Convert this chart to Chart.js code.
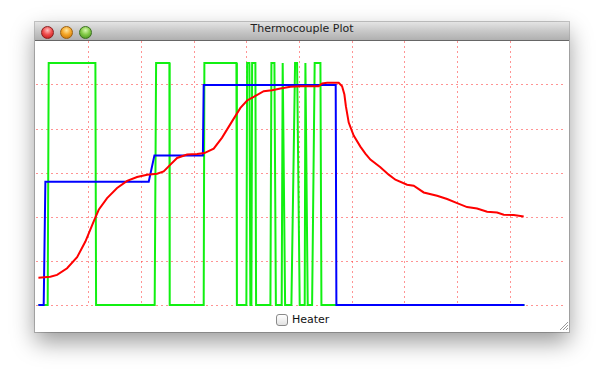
<!DOCTYPE html>
<html><head><meta charset="utf-8">
<script src="https://cdn.jsdelivr.net/npm/chart.js@4"></script>
<style>
html,body{margin:0;padding:0;background:#fff;width:604px;height:380px;overflow:hidden;}
#win{position:absolute;left:35px;top:22px;width:534px;height:310px;background:#fff;box-shadow:0 10px 22px rgba(0,0,0,0.4),0 0 0 1px rgba(0,0,0,0.22);}
#tb{position:absolute;left:0;top:0;width:534px;height:18px;background:linear-gradient(#e4e4e4,#c8c8c8 50%,#b0b0b0);border-bottom:1px solid #666;}
#title{position:absolute;left:0;right:0;top:0;height:19px;line-height:19px;text-align:center;font:11px "DejaVu Sans";color:#222;}
.tl{position:absolute;top:4px;width:13px;height:13px;border-radius:50%;box-sizing:border-box;}
#r{left:6px;background:radial-gradient(circle at 50% 30%,#ffc0c0 0,#f05050 45%,#b81010 100%);border:1px solid #8a2020;}
#o{left:25px;background:radial-gradient(circle at 50% 30%,#ffe6a0 0,#f5a82a 45%,#c06a00 100%);border:1px solid #9a6010;}
#g{left:44px;background:radial-gradient(circle at 50% 30%,#d8f6b0 0,#86cc4a 45%,#3f8a18 100%);border:1px solid #3a7020;}
#wrap{position:absolute;left:36px;top:41px;width:527px;height:270px;}
#cb{position:absolute;left:276px;top:314px;width:12px;height:12px;box-sizing:border-box;border:1px solid #8a8a8a;border-radius:3px;background:linear-gradient(#fff,#e2e2e2);}
#lbl{position:absolute;left:292px;top:313px;font:11px "DejaVu Sans";color:#111;line-height:14px;}
#grip{position:absolute;left:559px;top:321px;}
</style></head><body>
<div id="win"><div id="tb"></div><div id="title">Thermocouple Plot</div>
<div class="tl" id="r"></div><div class="tl" id="o"></div><div class="tl" id="g"></div></div>
<div id="wrap"><canvas id="c"></canvas></div>
<div id="cb"></div><div id="lbl">Heater</div>
<svg id="grip" width="10" height="10"><g stroke="#999" stroke-width="1"><line x1="1" y1="9" x2="9" y2="1"/><line x1="4" y1="9" x2="9" y2="4"/><line x1="7" y1="9" x2="9" y2="7"/></g></svg>
<script>
const tempTime = [4.6,27.3,40.0,59.0,78.0,93.7,109.5,119.0,134.9,153.9,172.9,191.8,210.8,229.8,242.3,255.0,267.7,286.7,305.7,319.5,337.2,353.1,371.7,387.9,400.6,413.1,432.1,448.0,463.8,482.7,501.7,536.4,542.9,552.4,574.4,580.8,585.2,588.0,593.4,602.8,615.5,625.0,634.5,653.5,669.3,682.0,704.2,716.7,735.7,761.1,780.1,799.1,818.0,837.0,856.0,874.9,887.5,906.5,925.4];
const temperature = [31.1,32.2,34.2,41.8,54.4,72.1,94.9,108.2,121.5,132.9,141.0,145.5,148.1,149.2,151.8,159.5,167.1,170.9,171.6,172.6,177.7,190.2,208.4,224.0,232.4,236.6,243.0,244.1,246.0,248.0,248.6,248.6,251.7,252.5,252.5,248.6,239.2,225.9,207.3,192.5,180.0,172.0,165.2,156.6,148.1,142.4,136.7,135.5,127.9,124.2,120.4,115.8,111.3,109.7,105.9,105.1,102.5,102.2,100.6];
const setTime = [4.6,14.6,17.8,213.9,224.7,316.7,318.2,568.7,570.0,926.8];
const setpoint = [0,0,140,140,170,170,250,250,0,0];
const heaterTime = [4.6,22.2,24.1,112.7,114.0,225.2,227.9,253.1,253.7,318.2,319.5,380.3,381.2,399.2,400.6,404.9,406.8,408.7,410.1,416.3,417.6,444.8,446.7,452.4,455.2,466.2,468.1,472.7,484.6,491.6,495.4,500.4,509.9,511.2,515.6,523.9,528.8,539.7,541.6,926.8];
const heater = [0,0,275,275,0,0,275,275,0,0,275,275,0,0,275,275,0,0,275,275,0,0,275,275,0,0,275,0,0,275,275,0,0,275,0,0,275,275,0,0];
const xTicks = [0,100,200,300,400,500,600,700,800,900,1000];
const yTicks = [0,50,100,150,200,250,300];

const pts = (xs, ys) => xs.map((x, i) => ({x, y: ys[i]}));
const gridCol = 'rgba(255,60,60,0.55)';
new Chart(document.getElementById('c'), {
  type: 'line',
  data: { datasets: [
    {label:'Temperature', data: pts(tempTime, temperature), borderColor:'#ff0000', borderWidth:2, pointRadius:0, order:1, clip:false},
    {label:'Setpoint', data: pts(setTime, setpoint), borderColor:'#0000ff', borderWidth:2, pointRadius:0, order:2, clip:false},
    {label:'Heater', data: pts(heaterTime, heater), borderColor:'#11f011', borderWidth:2, pointRadius:0, order:3, clip:false}
  ]},
  options: {
    responsive:true, maintainAspectRatio:false, animation:false,
    layout:{padding:{left:0,right:0,top:0,bottom:6}},
    plugins:{legend:{display:false}, tooltip:{enabled:false}},
    elements:{line:{tension:0, borderJoinStyle:'miter'}},
    scales:{
      x:{type:'linear', min:xTicks[0], max:xTicks[xTicks.length-1],
         afterBuildTicks: s => { s.ticks = xTicks.map(v => ({value:v})); },
         ticks:{display:false}, border:{display:false, dash:[2,3]},
         grid:{drawTicks:false, lineWidth:1, color: c => (c.tick && c.tick.value === 0) ? 'rgba(0,0,0,0)' : gridCol}},
      y:{type:'linear', min:yTicks[0], max:yTicks[yTicks.length-1],
         afterBuildTicks: s => { s.ticks = yTicks.map(v => ({value:v})); },
         ticks:{display:false}, border:{display:false, dash:[2,3]},
         grid:{drawTicks:false, lineWidth:1, color: c => (c.tick && c.tick.value === 300) ? 'rgba(0,0,0,0)' : gridCol}}
    }
  }
});
</script></body></html>
